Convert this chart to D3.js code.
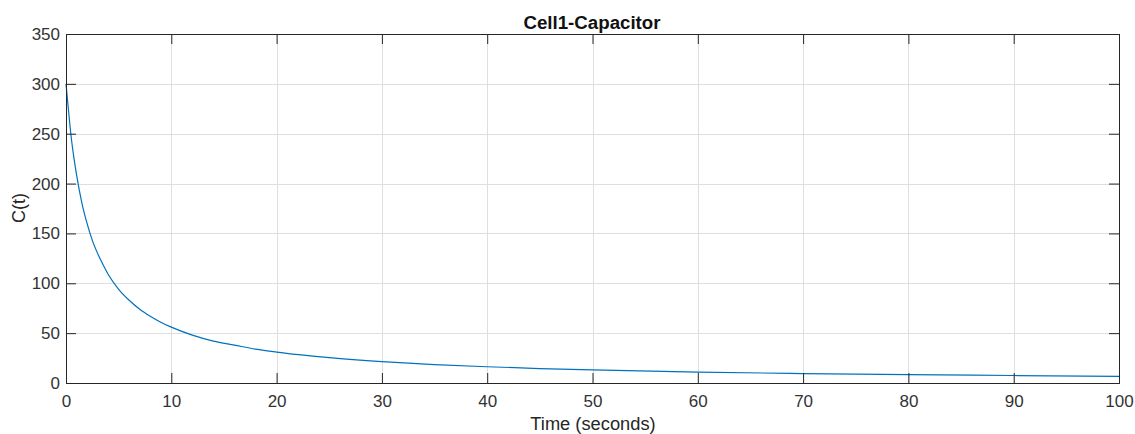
<!DOCTYPE html>
<html><head><meta charset="utf-8">
<script src="https://cdn.jsdelivr.net/npm/d3@7"></script>
<style>
html,body{margin:0;padding:0;background:#fff;}
svg{display:block;font-family:"Liberation Sans",Arial,sans-serif;}
</style></head>
<body>
<svg id="chart" width="1135" height="434"></svg>
<script>
const title = "Cell1-Capacitor";
const xLabel = "Time (seconds)";
const yLabel = "C(t)";
const xTicks = [0,10,20,30,40,50,60,70,80,90,100];
const yTicks = [0,50,100,150,200,250,300,350];
const timeValues = [0,0.25,0.5,0.75,1,1.5,2,2.5,3,3.5,4,5,6,7,8,9,10,12,14,16,18,20,25,30,35,40,45,50,60,70,80,90,100];
const capValues  = [300,272,246,226,209,181,160,143,130,119,109,94,83,74,67,61,56,48,42,38,34,31,25.5,21.5,18.5,16.3,14.5,13.1,10.9,9.5,8.4,7.5,6.6];

const svg = d3.select("#chart");
const L = 66, R = 1119, T = 34, B = 383;
const x = d3.scaleLinear().domain([0,100]).range([L,R]);
const y = d3.scaleLinear().domain([0,350]).range([B,T]);
const axisCol = "#262626";

// grid
const g = svg.append("g");
g.selectAll(".gx").data(xTicks.slice(1,-1)).join("line")
  .attr("x1",d=>Math.round(x(d))+0.5).attr("x2",d=>Math.round(x(d))+0.5)
  .attr("y1",T).attr("y2",B).attr("stroke","#dfdfdf").attr("stroke-width",1);
g.selectAll(".gy").data(yTicks.slice(1,-1)).join("line")
  .attr("y1",d=>Math.round(y(d))+0.5).attr("y2",d=>Math.round(y(d))+0.5)
  .attr("x1",L).attr("x2",R).attr("stroke","#dfdfdf").attr("stroke-width",1);

// line
const line = d3.line().x((d,i)=>x(timeValues[i])).y(d=>y(d)).curve(d3.curveMonotoneX);
svg.append("path").datum(capValues).attr("d",line)
  .attr("fill","none").attr("stroke","#0072BD").attr("stroke-width",1.2);

// axes
const fs = "17px";
const axB = d3.axisBottom(x).tickValues(xTicks).tickSize(-10).tickPadding(12);
const axT = d3.axisTop(x).tickValues(xTicks).tickSize(-10).tickFormat("");
const axLft = d3.axisLeft(y).tickValues(yTicks).tickSize(-10).tickPadding(6);
const axRt = d3.axisRight(y).tickValues(yTicks).tickSize(-10).tickFormat("");
function style(sel){
  sel.selectAll("path").attr("stroke",axisCol);
  sel.selectAll("line").attr("stroke",axisCol);
  sel.selectAll("text").attr("fill","#333").style("font-size",fs).style("font-family","'Liberation Sans',Arial,sans-serif");
}
svg.append("g").attr("transform",`translate(0,${B})`).call(axB).call(style);
svg.append("g").attr("transform",`translate(0,${T})`).call(axT).call(style);
svg.append("g").attr("transform",`translate(${L},0)`).call(axLft).call(style);
svg.append("g").attr("transform",`translate(${R},0)`).call(axRt).call(style);

// titles
svg.append("text").attr("x",592).attr("y",29).attr("text-anchor","middle")
  .style("font-size","18.7px").style("font-weight","bold").attr("fill","#111").text(title);
svg.append("text").attr("x",593).attr("y",430).attr("text-anchor","middle")
  .style("font-size","18.3px").attr("fill","#262626").text(xLabel);
svg.append("text").attr("transform","translate(25,208) rotate(-90)").attr("text-anchor","middle")
  .style("font-size","18px").attr("fill","#262626").text(yLabel);
</script>
</body></html>
